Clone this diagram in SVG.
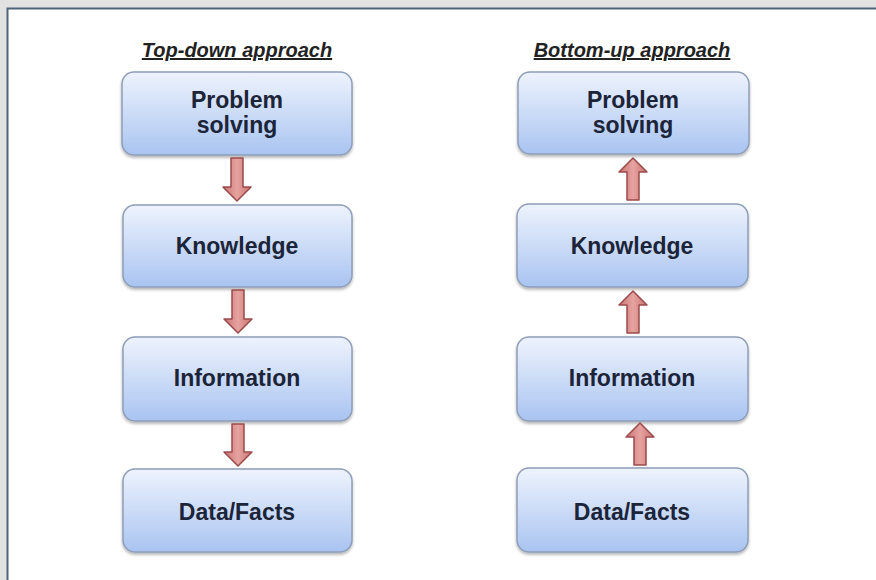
<svg xmlns="http://www.w3.org/2000/svg" width="876" height="580" viewBox="0 0 876 580">
<defs>
<linearGradient id="boxg" x1="0" y1="0" x2="0" y2="1">
<stop offset="0" stop-color="#eef3fd"/>
<stop offset="1" stop-color="#a9c4f1"/>
</linearGradient>
<linearGradient id="arrg" x1="0" y1="0" x2="1" y2="0">
<stop offset="0" stop-color="#c97472"/>
<stop offset="0.5" stop-color="#e6a3a0"/>
<stop offset="1" stop-color="#c97472"/>
</linearGradient>
<filter id="sh" x="-10%" y="-10%" width="120%" height="130%">
<feGaussianBlur in="SourceAlpha" stdDeviation="1.5"/>
<feOffset dx="0" dy="2" result="b"/>
<feComponentTransfer><feFuncA type="linear" slope="0.3"/></feComponentTransfer>
<feMerge><feMergeNode/><feMergeNode in="SourceGraphic"/></feMerge>
</filter>
</defs>
<style>
.box{fill:url(#boxg);stroke:#8e9db8;stroke-width:1.5}
.lbl{font-family:"Liberation Sans",Arial,sans-serif;font-weight:bold;font-size:23px;fill:#1b2438;text-anchor:middle}
.ttl{font-family:"Liberation Sans",Arial,sans-serif;font-weight:bold;font-style:italic;font-size:20px;fill:#222;text-anchor:middle;text-decoration:underline}
.arr{fill:url(#arrg);stroke:#9b4b4b;stroke-width:1.5;stroke-linejoin:round}
</style>
<rect x="0" y="0" width="876" height="580" fill="#e2e2e2"/>
<rect x="7" y="8" width="869" height="572" fill="#ffffff"/>
<path d="M7.5 580 V8.5 H876" fill="none" stroke="#4e6479" stroke-width="2"/>

<text class="ttl" x="237" y="57">Top-down approach</text>
<text class="ttl" x="632" y="57">Bottom-up approach</text>

<g id="td-problem"><rect class="box" x="122" y="72" width="230" height="83" rx="12" filter="url(#sh)"/><text class="lbl" x="237" y="108">Problem</text><text class="lbl" x="237" y="133">solving</text></g>
<g id="td-knowledge"><rect class="box" x="123" y="205" width="229" height="82" rx="12" filter="url(#sh)"/><text class="lbl" x="237" y="254">Knowledge</text></g>
<g id="td-information"><rect class="box" x="123" y="337" width="229" height="84" rx="12" filter="url(#sh)"/><text class="lbl" x="237" y="386">Information</text></g>
<g id="td-data"><rect class="box" x="123" y="469" width="229" height="83" rx="12" filter="url(#sh)"/><text class="lbl" x="237" y="520">Data/Facts</text></g>

<g id="bu-problem"><rect class="box" x="518" y="72" width="231" height="82" rx="12" filter="url(#sh)"/><text class="lbl" x="633" y="108">Problem</text><text class="lbl" x="633" y="133">solving</text></g>
<g id="bu-knowledge"><rect class="box" x="517" y="204" width="231" height="83" rx="12" filter="url(#sh)"/><text class="lbl" x="632" y="254">Knowledge</text></g>
<g id="bu-information"><rect class="box" x="517" y="337" width="231" height="84" rx="12" filter="url(#sh)"/><text class="lbl" x="632" y="386">Information</text></g>
<g id="bu-data"><rect class="box" x="517" y="468" width="231" height="84" rx="12" filter="url(#sh)"/><text class="lbl" x="632" y="520">Data/Facts</text></g>

<g id="connectors">
<path class="arr" d="M231 158 H243 V187 H251 L237 201 L223 187 H231 Z"/>
<path class="arr" d="M232 290 H244 V319 H252 L238 333 L224 319 H232 Z"/>
<path class="arr" d="M232 424 H244 V452 H252 L238 466 L224 452 H232 Z"/>
<path class="arr" d="M627 200 H639 V172 H647 L633 158 L619 172 H627 Z"/>
<path class="arr" d="M627 333 H639 V305 H647 L633 291 L619 305 H627 Z"/>
<path class="arr" d="M634 465 H646 V437 H654 L640 423 L626 437 H634 Z"/>
</g>
</svg>
